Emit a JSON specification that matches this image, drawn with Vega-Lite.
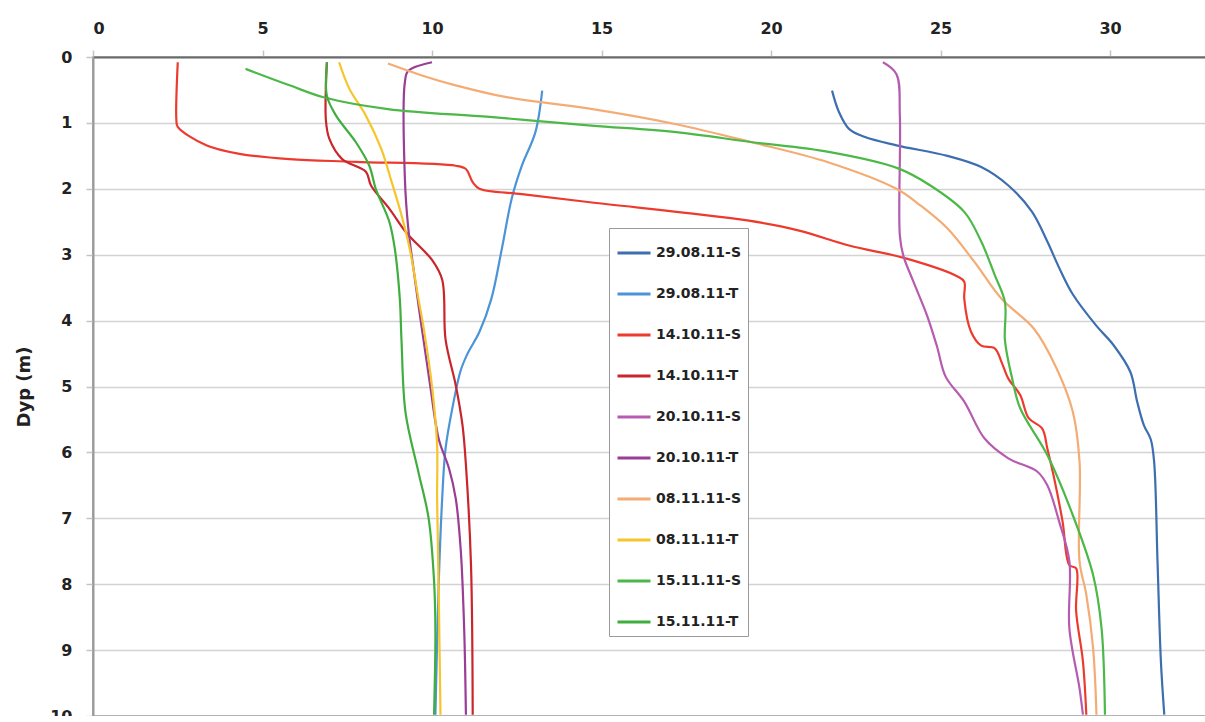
{
  "$schema": "https://vega.github.io/schema/vega-lite/v6.json",
  "autosize": "none",
  "padding": {"left": 93, "top": 57, "right": 0, "bottom": 0},
  "width": 1114,
  "height": 659,
  "background": "white",
  "config": {
    "view": {"stroke": "#8a8a8a", "strokeWidth": 1.5},
    "font": "DejaVu Sans"
  },
  "datasets": {
    "profiler": [
      {"serie": "29.08.11-S", "verdi": 21.8, "dyp": 0.51},
      {"serie": "29.08.11-S", "verdi": 22.0, "dyp": 0.83},
      {"serie": "29.08.11-S", "verdi": 22.3, "dyp": 1.09},
      {"serie": "29.08.11-S", "verdi": 22.75, "dyp": 1.21},
      {"serie": "29.08.11-S", "verdi": 23.7, "dyp": 1.34},
      {"serie": "29.08.11-S", "verdi": 25.2, "dyp": 1.5},
      {"serie": "29.08.11-S", "verdi": 26.2, "dyp": 1.67},
      {"serie": "29.08.11-S", "verdi": 27.0, "dyp": 1.95},
      {"serie": "29.08.11-S", "verdi": 27.7, "dyp": 2.35},
      {"serie": "29.08.11-S", "verdi": 28.15, "dyp": 2.8},
      {"serie": "29.08.11-S", "verdi": 28.5, "dyp": 3.2},
      {"serie": "29.08.11-S", "verdi": 28.9, "dyp": 3.6},
      {"serie": "29.08.11-S", "verdi": 29.6, "dyp": 4.08},
      {"serie": "29.08.11-S", "verdi": 30.1, "dyp": 4.37},
      {"serie": "29.08.11-S", "verdi": 30.6, "dyp": 4.78},
      {"serie": "29.08.11-S", "verdi": 30.8, "dyp": 5.23},
      {"serie": "29.08.11-S", "verdi": 31.0, "dyp": 5.59},
      {"serie": "29.08.11-S", "verdi": 31.2, "dyp": 5.8},
      {"serie": "29.08.11-S", "verdi": 31.3, "dyp": 6.14},
      {"serie": "29.08.11-S", "verdi": 31.4, "dyp": 7.65},
      {"serie": "29.08.11-S", "verdi": 31.5, "dyp": 9.17},
      {"serie": "29.08.11-S", "verdi": 31.6, "dyp": 9.98},

      {"serie": "29.08.11-T", "verdi": 13.25, "dyp": 0.51},
      {"serie": "29.08.11-T", "verdi": 13.05, "dyp": 1.14},
      {"serie": "29.08.11-T", "verdi": 12.65, "dyp": 1.65},
      {"serie": "29.08.11-T", "verdi": 12.35, "dyp": 2.15},
      {"serie": "29.08.11-T", "verdi": 12.06, "dyp": 2.91},
      {"serie": "29.08.11-T", "verdi": 11.75, "dyp": 3.67},
      {"serie": "29.08.11-T", "verdi": 11.4, "dyp": 4.17},
      {"serie": "29.08.11-T", "verdi": 11.05, "dyp": 4.5},
      {"serie": "29.08.11-T", "verdi": 10.85, "dyp": 4.75},
      {"serie": "29.08.11-T", "verdi": 10.6, "dyp": 5.33},
      {"serie": "29.08.11-T", "verdi": 10.4, "dyp": 5.94},
      {"serie": "29.08.11-T", "verdi": 10.3, "dyp": 6.7},
      {"serie": "29.08.11-T", "verdi": 10.2, "dyp": 7.95},
      {"serie": "29.08.11-T", "verdi": 10.1, "dyp": 9.98},

      {"serie": "14.10.11-S", "verdi": 2.5, "dyp": 0.08},
      {"serie": "14.10.11-S", "verdi": 2.46, "dyp": 0.96},
      {"serie": "14.10.11-S", "verdi": 2.5, "dyp": 1.06},
      {"serie": "14.10.11-S", "verdi": 3.34, "dyp": 1.34},
      {"serie": "14.10.11-S", "verdi": 4.32, "dyp": 1.47},
      {"serie": "14.10.11-S", "verdi": 5.8, "dyp": 1.55},
      {"serie": "14.10.11-S", "verdi": 7.75, "dyp": 1.59},
      {"serie": "14.10.11-S", "verdi": 10.7, "dyp": 1.65},
      {"serie": "14.10.11-S", "verdi": 11.0, "dyp": 1.7},
      {"serie": "14.10.11-S", "verdi": 11.2, "dyp": 1.9},
      {"serie": "14.10.11-S", "verdi": 11.4, "dyp": 2.0},
      {"serie": "14.10.11-S", "verdi": 12.65, "dyp": 2.08},
      {"serie": "14.10.11-S", "verdi": 14.6, "dyp": 2.2},
      {"serie": "14.10.11-S", "verdi": 19.3, "dyp": 2.48},
      {"serie": "14.10.11-S", "verdi": 20.8, "dyp": 2.63},
      {"serie": "14.10.11-S", "verdi": 22.3, "dyp": 2.86},
      {"serie": "14.10.11-S", "verdi": 24.0, "dyp": 3.06},
      {"serie": "14.10.11-S", "verdi": 25.5, "dyp": 3.33},
      {"serie": "14.10.11-S", "verdi": 25.7, "dyp": 3.41},
      {"serie": "14.10.11-S", "verdi": 25.7, "dyp": 3.67},
      {"serie": "14.10.11-S", "verdi": 25.9, "dyp": 4.17},
      {"serie": "14.10.11-S", "verdi": 26.2, "dyp": 4.38},
      {"serie": "14.10.11-S", "verdi": 26.6, "dyp": 4.42},
      {"serie": "14.10.11-S", "verdi": 26.8, "dyp": 4.63},
      {"serie": "14.10.11-S", "verdi": 27.0, "dyp": 4.88},
      {"serie": "14.10.11-S", "verdi": 27.35, "dyp": 5.13},
      {"serie": "14.10.11-S", "verdi": 27.6, "dyp": 5.48},
      {"serie": "14.10.11-S", "verdi": 28.0, "dyp": 5.64},
      {"serie": "14.10.11-S", "verdi": 28.15, "dyp": 5.94},
      {"serie": "14.10.11-S", "verdi": 28.35, "dyp": 6.39},
      {"serie": "14.10.11-S", "verdi": 28.6, "dyp": 7.05},
      {"serie": "14.10.11-S", "verdi": 28.8, "dyp": 7.71},
      {"serie": "14.10.11-S", "verdi": 29.0, "dyp": 7.76},
      {"serie": "14.10.11-S", "verdi": 29.0, "dyp": 8.41},
      {"serie": "14.10.11-S", "verdi": 29.2, "dyp": 9.17},
      {"serie": "14.10.11-S", "verdi": 29.3, "dyp": 9.98},

      {"serie": "14.10.11-T", "verdi": 6.9, "dyp": 0.08},
      {"serie": "14.10.11-T", "verdi": 6.87, "dyp": 0.96},
      {"serie": "14.10.11-T", "verdi": 6.97, "dyp": 1.24},
      {"serie": "14.10.11-T", "verdi": 7.35, "dyp": 1.55},
      {"serie": "14.10.11-T", "verdi": 8.05, "dyp": 1.74},
      {"serie": "14.10.11-T", "verdi": 8.2, "dyp": 1.95},
      {"serie": "14.10.11-T", "verdi": 8.74, "dyp": 2.3},
      {"serie": "14.10.11-T", "verdi": 9.25, "dyp": 2.67},
      {"serie": "14.10.11-T", "verdi": 10.0, "dyp": 3.08},
      {"serie": "14.10.11-T", "verdi": 10.3, "dyp": 3.38},
      {"serie": "14.10.11-T", "verdi": 10.4, "dyp": 4.29},
      {"serie": "14.10.11-T", "verdi": 10.7, "dyp": 4.98},
      {"serie": "14.10.11-T", "verdi": 10.9, "dyp": 5.59},
      {"serie": "14.10.11-T", "verdi": 11.0, "dyp": 6.19},
      {"serie": "14.10.11-T", "verdi": 11.15, "dyp": 7.71},
      {"serie": "14.10.11-T", "verdi": 11.2, "dyp": 9.98},

      {"serie": "20.10.11-S", "verdi": 23.3, "dyp": 0.08},
      {"serie": "20.10.11-S", "verdi": 23.7, "dyp": 0.26},
      {"serie": "20.10.11-S", "verdi": 23.8, "dyp": 0.89},
      {"serie": "20.10.11-S", "verdi": 23.8, "dyp": 2.71},
      {"serie": "20.10.11-S", "verdi": 23.9, "dyp": 3.01},
      {"serie": "20.10.11-S", "verdi": 24.2, "dyp": 3.41},
      {"serie": "20.10.11-S", "verdi": 24.6, "dyp": 3.92},
      {"serie": "20.10.11-S", "verdi": 24.9, "dyp": 4.4},
      {"serie": "20.10.11-S", "verdi": 25.15, "dyp": 4.85},
      {"serie": "20.10.11-S", "verdi": 25.7, "dyp": 5.23},
      {"serie": "20.10.11-S", "verdi": 26.3, "dyp": 5.79},
      {"serie": "20.10.11-S", "verdi": 27.0, "dyp": 6.09},
      {"serie": "20.10.11-S", "verdi": 27.85, "dyp": 6.29},
      {"serie": "20.10.11-S", "verdi": 28.15, "dyp": 6.5},
      {"serie": "20.10.11-S", "verdi": 28.5, "dyp": 7.05},
      {"serie": "20.10.11-S", "verdi": 28.8, "dyp": 7.65},
      {"serie": "20.10.11-S", "verdi": 28.8, "dyp": 8.67},
      {"serie": "20.10.11-S", "verdi": 29.1, "dyp": 9.58},
      {"serie": "20.10.11-S", "verdi": 29.2, "dyp": 9.98},

      {"serie": "20.10.11-T", "verdi": 10.0, "dyp": 0.08},
      {"serie": "20.10.11-T", "verdi": 9.3, "dyp": 0.21},
      {"serie": "20.10.11-T", "verdi": 9.2, "dyp": 0.38},
      {"serie": "20.10.11-T", "verdi": 9.2, "dyp": 1.85},
      {"serie": "20.10.11-T", "verdi": 9.3, "dyp": 2.6},
      {"serie": "20.10.11-T", "verdi": 9.45, "dyp": 3.2},
      {"serie": "20.10.11-T", "verdi": 9.7, "dyp": 4.12},
      {"serie": "20.10.11-T", "verdi": 9.95, "dyp": 5.0},
      {"serie": "20.10.11-T", "verdi": 10.2, "dyp": 5.8},
      {"serie": "20.10.11-T", "verdi": 10.5, "dyp": 6.24},
      {"serie": "20.10.11-T", "verdi": 10.7, "dyp": 6.7},
      {"serie": "20.10.11-T", "verdi": 10.85, "dyp": 7.5},
      {"serie": "20.10.11-T", "verdi": 10.95, "dyp": 8.7},
      {"serie": "20.10.11-T", "verdi": 11.0, "dyp": 9.98},

      {"serie": "08.11.11-S", "verdi": 8.7, "dyp": 0.1},
      {"serie": "08.11.11-S", "verdi": 9.7, "dyp": 0.28},
      {"serie": "08.11.11-S", "verdi": 10.7, "dyp": 0.43},
      {"serie": "08.11.11-S", "verdi": 12.2, "dyp": 0.61},
      {"serie": "08.11.11-S", "verdi": 14.6, "dyp": 0.78},
      {"serie": "08.11.11-S", "verdi": 17.2, "dyp": 1.02},
      {"serie": "08.11.11-S", "verdi": 19.4, "dyp": 1.29},
      {"serie": "08.11.11-S", "verdi": 21.7, "dyp": 1.6},
      {"serie": "08.11.11-S", "verdi": 23.7, "dyp": 2.0},
      {"serie": "08.11.11-S", "verdi": 24.4, "dyp": 2.25},
      {"serie": "08.11.11-S", "verdi": 25.2, "dyp": 2.6},
      {"serie": "08.11.11-S", "verdi": 26.0, "dyp": 3.11},
      {"serie": "08.11.11-S", "verdi": 26.8, "dyp": 3.67},
      {"serie": "08.11.11-S", "verdi": 27.75, "dyp": 4.12},
      {"serie": "08.11.11-S", "verdi": 28.4, "dyp": 4.7},
      {"serie": "08.11.11-S", "verdi": 28.9, "dyp": 5.38},
      {"serie": "08.11.11-S", "verdi": 29.1, "dyp": 6.14},
      {"serie": "08.11.11-S", "verdi": 29.1, "dyp": 7.65},
      {"serie": "08.11.11-S", "verdi": 29.3, "dyp": 8.16},
      {"serie": "08.11.11-S", "verdi": 29.5, "dyp": 8.97},
      {"serie": "08.11.11-S", "verdi": 29.6, "dyp": 9.98},

      {"serie": "08.11.11-T", "verdi": 7.26, "dyp": 0.08},
      {"serie": "08.11.11-T", "verdi": 7.56, "dyp": 0.48},
      {"serie": "08.11.11-T", "verdi": 8.05, "dyp": 0.89},
      {"serie": "08.11.11-T", "verdi": 8.5, "dyp": 1.39},
      {"serie": "08.11.11-T", "verdi": 8.8, "dyp": 1.88},
      {"serie": "08.11.11-T", "verdi": 9.1, "dyp": 2.4},
      {"serie": "08.11.11-T", "verdi": 9.35, "dyp": 2.93},
      {"serie": "08.11.11-T", "verdi": 9.6, "dyp": 3.67},
      {"serie": "08.11.11-T", "verdi": 9.75, "dyp": 4.1},
      {"serie": "08.11.11-T", "verdi": 10.0, "dyp": 5.0},
      {"serie": "08.11.11-T", "verdi": 10.15, "dyp": 5.89},
      {"serie": "08.11.11-T", "verdi": 10.15, "dyp": 6.7},
      {"serie": "08.11.11-T", "verdi": 10.2, "dyp": 8.21},
      {"serie": "08.11.11-T", "verdi": 10.25, "dyp": 9.98},

      {"serie": "15.11.11-S", "verdi": 4.5, "dyp": 0.18},
      {"serie": "15.11.11-S", "verdi": 5.8, "dyp": 0.43},
      {"serie": "15.11.11-S", "verdi": 6.8, "dyp": 0.61},
      {"serie": "15.11.11-S", "verdi": 8.7, "dyp": 0.79},
      {"serie": "15.11.11-S", "verdi": 11.7, "dyp": 0.91},
      {"serie": "15.11.11-S", "verdi": 14.7, "dyp": 1.04},
      {"serie": "15.11.11-S", "verdi": 17.2, "dyp": 1.14},
      {"serie": "15.11.11-S", "verdi": 19.4, "dyp": 1.29},
      {"serie": "15.11.11-S", "verdi": 21.7, "dyp": 1.44},
      {"serie": "15.11.11-S", "verdi": 23.75, "dyp": 1.69},
      {"serie": "15.11.11-S", "verdi": 24.7, "dyp": 1.95},
      {"serie": "15.11.11-S", "verdi": 25.7, "dyp": 2.35},
      {"serie": "15.11.11-S", "verdi": 26.2, "dyp": 2.8},
      {"serie": "15.11.11-S", "verdi": 26.6, "dyp": 3.31},
      {"serie": "15.11.11-S", "verdi": 26.9, "dyp": 3.72},
      {"serie": "15.11.11-S", "verdi": 26.9, "dyp": 4.3},
      {"serie": "15.11.11-S", "verdi": 27.1, "dyp": 4.85},
      {"serie": "15.11.11-S", "verdi": 27.35, "dyp": 5.33},
      {"serie": "15.11.11-S", "verdi": 28.15, "dyp": 6.04},
      {"serie": "15.11.11-S", "verdi": 28.9, "dyp": 6.95},
      {"serie": "15.11.11-S", "verdi": 29.5, "dyp": 7.86},
      {"serie": "15.11.11-S", "verdi": 29.75, "dyp": 8.67},
      {"serie": "15.11.11-S", "verdi": 29.85, "dyp": 9.98},

      {"serie": "15.11.11-T", "verdi": 6.9, "dyp": 0.08},
      {"serie": "15.11.11-T", "verdi": 6.9, "dyp": 0.59},
      {"serie": "15.11.11-T", "verdi": 7.17, "dyp": 0.89},
      {"serie": "15.11.11-T", "verdi": 7.75, "dyp": 1.29},
      {"serie": "15.11.11-T", "verdi": 8.15, "dyp": 1.65},
      {"serie": "15.11.11-T", "verdi": 8.34, "dyp": 2.0},
      {"serie": "15.11.11-T", "verdi": 8.74, "dyp": 2.5},
      {"serie": "15.11.11-T", "verdi": 8.9, "dyp": 2.9},
      {"serie": "15.11.11-T", "verdi": 9.05, "dyp": 3.67},
      {"serie": "15.11.11-T", "verdi": 9.1, "dyp": 4.3},
      {"serie": "15.11.11-T", "verdi": 9.22, "dyp": 5.4},
      {"serie": "15.11.11-T", "verdi": 9.6, "dyp": 6.3},
      {"serie": "15.11.11-T", "verdi": 9.9, "dyp": 7.0},
      {"serie": "15.11.11-T", "verdi": 10.06, "dyp": 7.95},
      {"serie": "15.11.11-T", "verdi": 10.1, "dyp": 8.71},
      {"serie": "15.11.11-T", "verdi": 10.06, "dyp": 9.98}
    ]
  },
  "data": {"name": "profiler"},
  "mark": {"type": "line", "strokeWidth": 2.2, "interpolate": "catmull-rom", "clip": true},
  "encoding": {
    "x": {
      "field": "verdi",
      "type": "quantitative",
      "scale": {"domain": [0, 32.86], "nice": false, "zero": false},
      "axis": {
        "orient": "top",
        "values": [0, 5, 10, 15, 20, 25, 30],
        "title": null,
        "grid": false,
        "domainColor": "#6b6b6b",
        "domainWidth": 2,
        "tickColor": "#c4c4c4",
        "tickSize": 7,
        "tickWidth": 1.5,
        "labelFont": "DejaVu Sans",
        "labelFontWeight": "bold",
        "labelFontSize": 16,
        "labelColor": "#222222",
        "labelPadding": 14
      }
    },
    "y": {
      "field": "dyp",
      "type": "quantitative",
      "scale": {"domain": [0, 10], "reverse": true, "nice": false},
      "axis": {
        "orient": "left",
        "values": [0, 1, 2, 3, 4, 5, 6, 7, 8, 9, 10],
        "title": "Dyp (m)",
        "titleFont": "DejaVu Sans",
        "titleFontWeight": "bold",
        "titleFontSize": 18,
        "titleColor": "#222222",
        "titlePadding": 16,
        "grid": true,
        "gridColor": "#d3d3d3",
        "gridWidth": 1.5,
        "domainColor": "#9a9a9a",
        "domainWidth": 2,
        "tickColor": "#c4c4c4",
        "tickSize": 7,
        "tickWidth": 1.5,
        "labelFont": "DejaVu Sans",
        "labelFontWeight": "bold",
        "labelFontSize": 16,
        "labelColor": "#222222",
        "labelPadding": 14
      }
    },
    "color": {
      "field": "serie",
      "type": "nominal",
      "sort": null,
      "scale": {
        "domain": ["29.08.11-S", "29.08.11-T", "14.10.11-S", "14.10.11-T", "20.10.11-S", "20.10.11-T", "08.11.11-S", "08.11.11-T", "15.11.11-S", "15.11.11-T"],
        "range": ["#3d6eb0", "#4c94d8", "#ec3b2e", "#c9262c", "#b65cb0", "#9a3d95", "#f4ac74", "#f6c52a", "#4cb848", "#3fae3f"]
      },
      "legend": {
        "orient": "none",
        "legendX": 516,
        "legendY": 171,
        "title": null,
        "symbolType": "stroke",
        "symbolSize": 1089,
        "symbolStrokeWidth": 3,
        "labelFont": "DejaVu Sans",
        "labelFontWeight": "bold",
        "labelFontSize": 14,
        "labelColor": "#222222",
        "labelOffset": 4,
        "rowPadding": 16,
        "padding": 7,
        "strokeColor": "#9a9a9a",
        "fillColor": "white"
      }
    },
    "order": {"field": "dyp", "type": "quantitative"}
  }
}
